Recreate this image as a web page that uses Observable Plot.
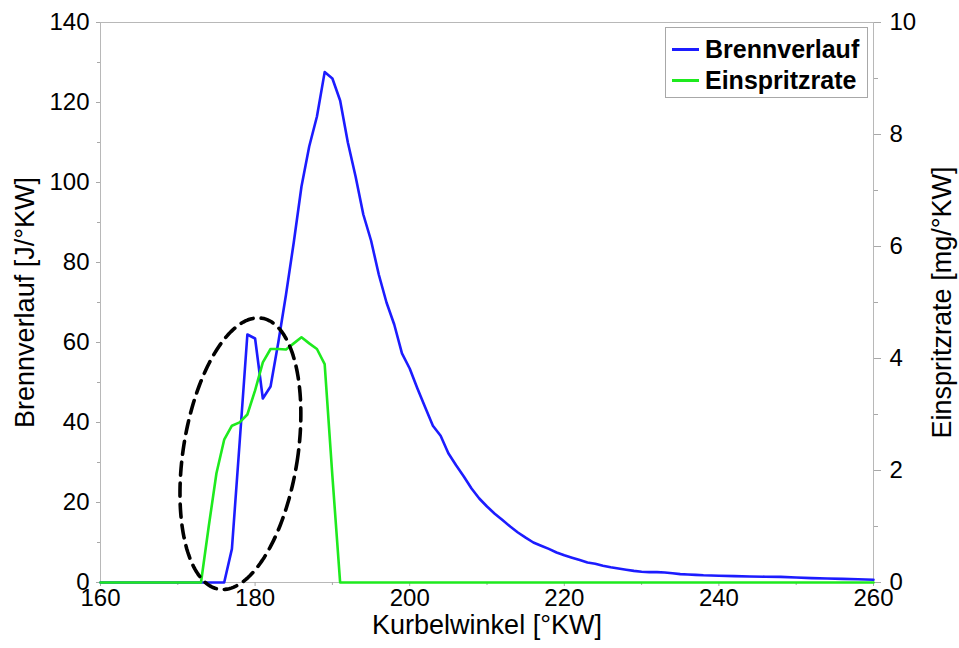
<!DOCTYPE html>
<html><head><meta charset="utf-8">
<script src="https://cdn.jsdelivr.net/npm/d3@7"></script>
<script src="https://cdn.jsdelivr.net/npm/@observablehq/plot@0.6"></script>
<style>
body{margin:0;background:#fff;font-family:"Liberation Sans",Arial,sans-serif;}
#wrap{position:relative;width:959px;height:648px;overflow:hidden;}
#legend{position:absolute;left:665px;top:27px;width:201px;height:69px;border:1px solid #a8a8a8;background:#fff;}
.row{position:absolute;left:0;height:25px;width:201px;}
.sw{position:absolute;left:6px;top:11px;width:27px;height:2.6px;}
.lt{position:absolute;left:39px;top:0;font-size:25px;line-height:25px;font-weight:bold;color:#000;white-space:nowrap;}
</style></head><body>
<div id="wrap"><div id="chart"></div>
<div id="legend"></div>
</div>
<script>
// ---- data ----
const seriesNames = ["Brennverlauf", "Einspritzrate"];
const seriesColors = ["#1c1cff", "#1eea1e"];

const brennAngle = [160,176,177,178,179,180,181,182,183,184,185,186,187,188,189,190,191,192,193,194,195,196,197,198,199,200,201,202,203,204,205,206,207,208,209,210,211,212,213,214,215,216,217,218,219,220,221,222,223,224,225,226,227,228,229,230,231,232,233,234,235,236,237,238,239,240,242,244,246,248,250,252,254,256,258,260];
const brennValue = [0,0,8.4,35,62,61,46,49,60,72,85,99,109,116.5,127.6,126,120.5,110,101.5,92,85.5,77,70,64.5,57.3,53.5,48.5,43.8,39.2,36.7,32.3,29.3,26.5,23.5,21,19,17.2,15.6,14,12.5,11.2,10,9.2,8.4,7.5,6.8,6.2,5.6,5,4.7,4.2,3.8,3.5,3.2,2.9,2.7,2.6,2.6,2.5,2.3,2.1,2.0,1.9,1.8,1.75,1.7,1.6,1.5,1.45,1.4,1.25,1.1,1.0,0.9,0.8,0.7];

const einspritzAngle = [160,173,174,175,176,177,178,179,180,181,182,183,184,185,186,187,188,189,190,191,260];
const einspritzValue = [0,0,1.0,1.95,2.55,2.8,2.86,3.0,3.43,3.93,4.17,4.17,4.16,4.27,4.38,4.27,4.17,3.9,1.9,0,0];

const xMajor = [160,180,200,220,240,260];
const xMinor = [170,190,210,230,250];
const yMajor = [0,20,40,60,80,100,120,140];
const yMinor = [10,30,50,70,90,110,130];
const y2Major = [0,2,4,6,8,10];
const y2Minor = [1,3,5,7,9];

const xTitle = "Kurbelwinkel [°KW]";
const yTitle = "Brennverlauf [J/°KW]";
const y2Title = "Einspritzrate [mg/°KW]";

// annotation ellipse (data units, tilt in degrees on screen)
const ellipseSpec = {cx: 178.1, cy: 32.2, rx: 7.4, ry: 34.3, tilt: 9};

// ---- layout ----
const W = 959, H = 648, mL = 100, mR = 86, mT = 22, mB = 66;
const xDom = [160, 260], yDom = [0, 140], y2Dom = [0, 10];
const RATIO = yDom[1] / y2Dom[1];
const kx = (W - mL - mR) / (xDom[1] - xDom[0]);
const ky = (H - mT - mB) / (yDom[1] - yDom[0]);

const brenn = brennAngle.map((a, i) => ({a, v: brennValue[i]}));
const einspritz = einspritzAngle.map((a, i) => ({a, v: einspritzValue[i] * RATIO}));

const th = ellipseSpec.tilt * Math.PI / 180;
const ellipsePts = d3.range(0, 361, 2).map(deg => {
  const t = deg * Math.PI / 180;
  const u = ellipseSpec.rx * kx * Math.cos(t);
  const v = ellipseSpec.ry * ky * Math.sin(t);
  const pu = u * Math.cos(th) + v * Math.sin(th);
  const pv = -u * Math.sin(th) + v * Math.cos(th);
  return {x: ellipseSpec.cx + pu / kx, y: ellipseSpec.cy + pv / ky};
});

const tickGray = "#a8a8a8";
const chart = Plot.plot({
  width: W, height: H,
  marginLeft: mL, marginRight: mR, marginTop: mT, marginBottom: mB,
  style: {fontFamily: "'Liberation Sans', Arial, sans-serif", fontSize: "24px", color: "black", background: "white"},
  x: {domain: xDom},
  y: {domain: yDom},
  marks: [
    Plot.frame({stroke: "#b8b8b8"}),
    Plot.axisY({ticks: yMinor, tickSize: 3, stroke: tickGray, fill: "none", label: null}),
    Plot.axisY({ticks: yMajor, tickSize: 4, tickPadding: 7, stroke: tickGray, fill: "black", label: null, fontSize: 24}),
    Plot.axisY({anchor: "right", ticks: y2Minor.map(d => d * RATIO), tickSize: 4, stroke: tickGray, fill: "none", label: null}),
    Plot.axisY({anchor: "right", ticks: y2Major.map(d => d * RATIO), tickFormat: d => String(Math.round(d / RATIO)), tickSize: 7, tickPadding: 9, stroke: tickGray, fill: "black", label: null, fontSize: 24}),
    Plot.axisX({ticks: xMinor, tickSize: 3, stroke: tickGray, fill: "none", label: null}),
    Plot.axisX({ticks: xMajor, tickSize: 4, tickPadding: 2, stroke: tickGray, fill: "black", label: null, fontSize: 24}),
    Plot.line(brenn, {x: "a", y: "v", stroke: seriesColors[0], strokeWidth: 2.6}),
    Plot.line(einspritz, {x: "a", y: "v", stroke: seriesColors[1], strokeWidth: 2.6}),
    Plot.line(ellipsePts, {x: "x", y: "y", stroke: "black", strokeWidth: 3.6, strokeDasharray: "13,8", curve: "linear"}),
    Plot.text([xTitle], {text: d => d, frameAnchor: "bottom", textAnchor: "middle", dy: 51, fontSize: 27, fill: "black"}),
    Plot.text([yTitle], {text: d => d, frameAnchor: "left", textAnchor: "middle", dx: -75, rotate: -90, fontSize: 27, fill: "black"}),
    Plot.text([y2Title], {text: d => d, frameAnchor: "right", textAnchor: "middle", dx: 69, rotate: -90, fontSize: 27, fill: "black"})
  ]
});
document.getElementById("chart").appendChild(chart);

// legend
const leg = document.getElementById("legend");
const rowTops = [9, 40];
seriesNames.forEach((name, i) => {
  const row = document.createElement("div");
  row.className = "row";
  row.style.top = rowTops[i] + "px";
  const sw = document.createElement("div");
  sw.className = "sw";
  sw.style.background = seriesColors[i];
  const lt = document.createElement("div");
  lt.className = "lt";
  lt.textContent = name;
  row.appendChild(sw); row.appendChild(lt);
  leg.appendChild(row);
});
</script>
</body></html>
